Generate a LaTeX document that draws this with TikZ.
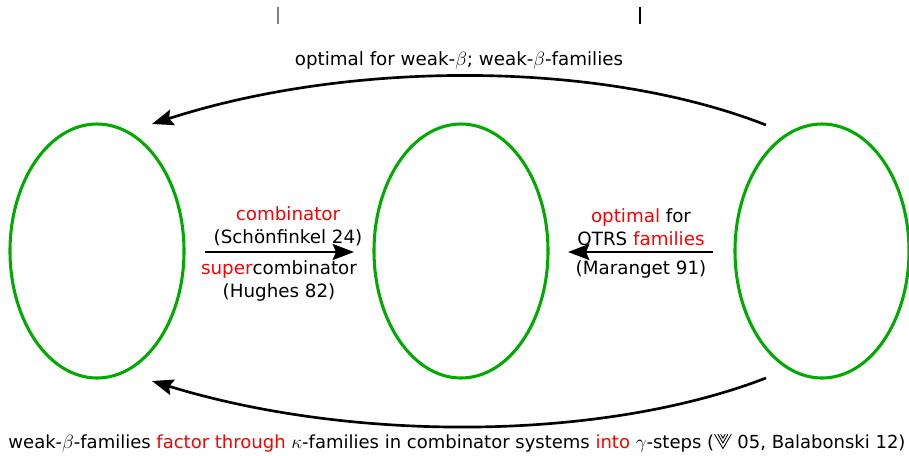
\documentclass[tikz,border=0pt]{standalone}
\usepackage{fontspec}
\setmainfont{DejaVu Sans}
\usetikzlibrary{arrows.meta,shapes.geometric}
\definecolor{hl}{RGB}{255,0,0}
\definecolor{ringgreen}{RGB}{0,170,0}
\newcommand{\hi}[1]{\textcolor{hl}{#1}}
% small nested-V logo used in the citation
\newcommand{\vvlogo}{\tikz[baseline=0pt,x=1ex,y=1ex,line width=0.09ex,line join=miter]{
  \draw (0,1.45) -- (0.85,0) -- (1.7,1.45);
  \draw (0.35,1.45) -- (0.85,0.55) -- (1.35,1.45);
  \draw (0.62,1.45) -- (0.85,1.05) -- (1.08,1.45);}}
\begin{document}
\begin{tikzpicture}[x=0.75pt,y=-0.75pt,
  font=\fontsize{13.7}{17}\selectfont,
  ring/.style={draw=ringgreen,line width=2.3pt,ellipse,minimum width=130.5pt,minimum height=190.5pt,inner sep=0pt},
  link/.style={draw=black,line width=2pt,-{Stealth[length=16pt,width=12pt,inset=2.5pt]}},
  lbl/.style={align=center,inner sep=0pt,font=\fontsize{13.7}{17.2}\selectfont},
  tick/.style={line width=1.1pt}]
\useasboundingbox (0,0) rectangle (909,455);

% the three sets
\node[ring] (L) at (97,251) {};
\node[ring] (M) at (461,251) {};
\node[ring] (R) at (822,251) {};

% end points of the long curved arrows
\coordinate (topstart) at (766,125);
\coordinate (topend) at (152,124);
\coordinate (botstart) at (766,378);
\coordinate (botend) at (152,381);

% end points of the short straight arrows
\coordinate (lmstart) at (205,252);
\coordinate (lmend) at (354,252);
\coordinate (rmstart) at (713,252);
\coordinate (rmend) at (568,252);

% marks along the top edge
\coordinate (t1a) at (278,7);
\coordinate (t1b) at (278,24);
\coordinate (t2a) at (640,7);
\coordinate (t2b) at (640,24);
\draw[tick,gray] (t1a) -- (t1b);
\draw[tick] (t2a) -- (t2b);

% curved arrows
\draw[link] (topstart) .. controls (600,60) and (350,60) .. (topend);
\draw[link] (botstart) .. controls (600,442) and (350,442) .. (botend);

% straight arrows
\draw[link] (lmstart) -- (lmend);
\draw[link] (rmstart) -- (rmend);

% labels
\node[lbl] (toplbl) at (459,60) {optimal for weak-$\beta$; weak-$\beta$-families};
\node[lbl,anchor=south] (lmup) at (288,246) {\hi{combinator}\\(Schönfinkel 24)};
\node[lbl,anchor=north] (lmdown) at (279,260) {\hi{super}combinator\\(Hughes 82)};
\node[lbl,anchor=south] (rmup) at (641,246) {\hi{optimal} for\\OTRS \hi{families}};
\node[lbl,anchor=north] (rmdown) at (641,260) {(Maranget 91)};
\node[lbl,font=\fontsize{13.5}{17}\selectfont] (botlbl) at (457,443) {weak-$\beta$-families \hi{factor through} $\kappa$-families in combinator systems \hi{into} $\gamma$-steps (\vvlogo\ 05, Balabonski 12)};
\end{tikzpicture}
\end{document}
